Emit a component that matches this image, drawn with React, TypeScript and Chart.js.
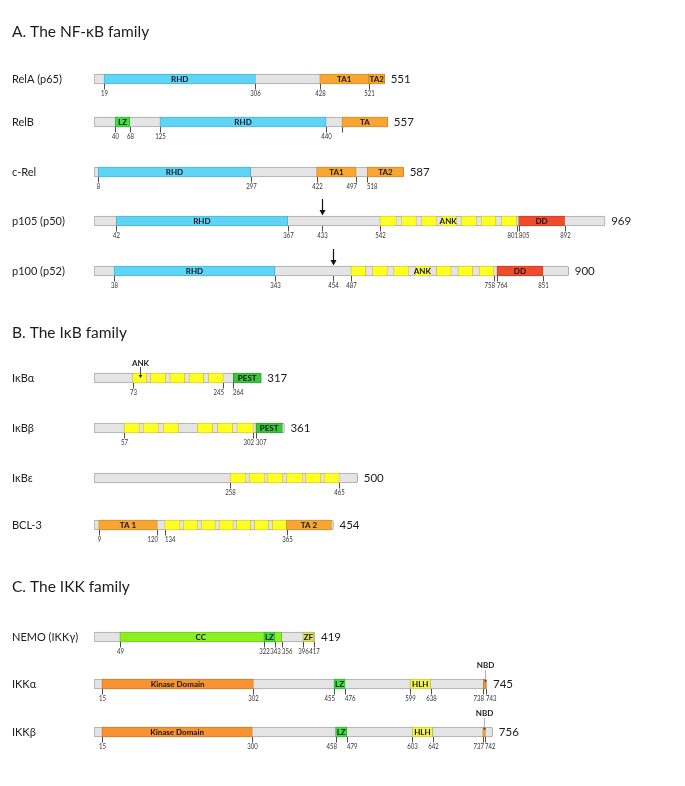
import React, { useEffect, useRef } from 'react';
import { Chart, registerables } from 'chart.js';

Chart.register(...registerables);

// ---------------- data ----------------
const SECTION_TITLES = ['A. The NF-κB family', 'B. The IκB family', 'C. The IKK family'];
const PROTEIN_NAMES = ['RelA (p65)', 'RelB', 'c-Rel', 'p105 (p50)', 'p100 (p52)', 'IκBα', 'IκBβ', 'IκBε', 'BCL-3', 'NEMO (IKKγ)', 'IKKα', 'IKKβ'];
const PROTEIN_LENGTHS = [551, 557, 587, 969, 900, 317, 361, 500, 454, 419, 745, 756];

type Dom = [number, number, string, string]; // start, end, label, kind
const RELA_DOMAINS: Dom[] = [[19, 306, 'RHD', 'RHD'], [428, 521, 'TA1', 'TA'], [521, 551, 'TA2', 'TA']];
const RELB_DOMAINS: Dom[] = [[40, 68, 'LZ', 'LZ'], [125, 440, 'RHD', 'RHD'], [470, 557, 'TA', 'TA']];
const CREL_DOMAINS: Dom[] = [[8, 297, 'RHD', 'RHD'], [422, 497, 'TA1', 'TA'], [518, 587, 'TA2', 'TA']];
const P105_DOMAINS: Dom[] = [[42, 367, 'RHD', 'RHD'], [805, 892, 'DD', 'DD']];
const P100_DOMAINS: Dom[] = [[38, 343, 'RHD', 'RHD'], [764, 851, 'DD', 'DD']];
const IKBA_DOMAINS: Dom[] = [[264, 317, 'PEST', 'PEST']];
const IKBB_DOMAINS: Dom[] = [[307, 357, 'PEST', 'PEST']];
const IKBE_DOMAINS: Dom[] = [];
const BCL3_DOMAINS: Dom[] = [[9, 120, 'TA 1', 'TA'], [365, 450, 'TA 2', 'TA']];
const NEMO_DOMAINS: Dom[] = [[49, 356, 'CC', 'CC'], [322, 343, 'LZ', 'LZ'], [396, 417, 'ZF', 'ZF']];
const IKKA_DOMAINS: Dom[] = [[15, 302, 'Kinase Domain', 'KIN'], [455, 476, 'LZ', 'LZ'], [599, 638, 'HLH', 'HLH'], [738, 743, '', 'NBD']];
const IKKB_DOMAINS: Dom[] = [[15, 300, 'Kinase Domain', 'KIN'], [458, 479, 'LZ', 'LZ'], [603, 642, 'HLH', 'HLH'], [737, 742, '', 'NBD']];

// ankyrin repeats [start, end]
const P105_ANK = [[542, 573], [583, 611], [621, 649], [658, 687], [696, 725], [734, 762], [772, 801]];
const P100_ANK = [[487, 515], [528, 556], [568, 596], [609, 637], [649, 677], [690, 718], [730, 758]];
const IKBA_ANK = [[73, 100], [107, 136], [144, 172], [180, 208], [217, 245]];
const IKBB_ANK = [[57, 86], [93, 122], [131, 160], [196, 225], [234, 263], [271, 302]];
const IKBE_ANK = [[258, 287], [294, 323], [328, 358], [365, 395], [401, 430], [436, 465]];
const BCL3_ANK = [[134, 163], [169, 196], [203, 230], [237, 264], [270, 297], [304, 331], [338, 365]];

// numbered residue ticks
const RELA_TICKS = [19, 306, 428, 521];
const RELB_TICKS = [40, 68, 125, 440];
const CREL_TICKS = [8, 297, 422, 497, 518];
const P105_TICKS = [42, 367, 433, 542, 801, 805, 892];
const P100_TICKS = [38, 343, 454, 487, 758, 764, 851];
const IKBA_TICKS = [73, 245, 264];
const IKBB_TICKS = [57, 302, 307];
const IKBE_TICKS = [258, 465];
const BCL3_TICKS = [9, 120, 134, 365];
const NEMO_TICKS = [49, 322, 343, 356, 396, 417];
const IKKA_TICKS = [15, 302, 455, 476, 599, 638, 738, 743];
const IKKB_TICKS = [15, 300, 458, 479, 603, 642, 737, 742];

const UNLABELED_MARKS: [number, number][] = [[1, 470]]; // [row, residue]
const CLEAVAGE_SITES: [number, number][] = [[3, 433], [4, 454]]; // processing sites (arrows)
const REPEAT_LABELS: [number, string][] = [[3, 'ANK'], [4, 'ANK']];
const CALLOUTS: [number, number, string, string][] = [[5, 87, 'ANK', 'arrow'], [10, 740.5, 'NBD', 'line'], [11, 739.5, 'NBD', 'line']];

const DOMAIN_LISTS = [RELA_DOMAINS, RELB_DOMAINS, CREL_DOMAINS, P105_DOMAINS, P100_DOMAINS, IKBA_DOMAINS, IKBB_DOMAINS, IKBE_DOMAINS, BCL3_DOMAINS, NEMO_DOMAINS, IKKA_DOMAINS, IKKB_DOMAINS];
const REPEAT_LISTS = [[], [], [], P105_ANK, P100_ANK, IKBA_ANK, IKBB_ANK, IKBE_ANK, BCL3_ANK, [], [], []];
const TICK_LISTS = [RELA_TICKS, RELB_TICKS, CREL_TICKS, P105_TICKS, P100_TICKS, IKBA_TICKS, IKBB_TICKS, IKBE_TICKS, BCL3_TICKS, NEMO_TICKS, IKKA_TICKS, IKKB_TICKS];

// ---------------- layout & style ----------------
const ROW_Y = [79, 122, 172, 221, 271, 378, 428, 478, 525, 637, 684, 732];
const TITLE_Y = [32, 333, 587];
const TICK_ALIGN: Record<string, 'left' | 'right'> = {
  '2:497': 'right', '2:518': 'left',
  '3:801': 'right', '3:805': 'left', '4:758': 'right', '4:764': 'left',
  '5:245': 'right', '5:264': 'left', '6:302': 'right', '6:307': 'left',
  '8:120': 'right', '8:134': 'left', '9:356': 'left',
  '10:455': 'right', '10:476': 'left', '10:738': 'right', '10:743': 'left',
  '11:458': 'right', '11:479': 'left', '11:737': 'right', '11:742': 'left',
};
const FONT = 'Lato, "Noto Sans", "DejaVu Sans", sans-serif';
const TICK_SQUEEZE = 0.84;
const KIND_COLORS: Record<string, [string, string]> = {
  RHD: ['#5fd4f4', '#45a9c8'],
  TA: ['#f8a531', '#c98420'],
  LZ: ['#3fe03f', '#2aa82a'],
  DD: ['#f04b2b', '#b83a20'],
  PEST: ['#3cc63c', '#2a922a'],
  CC: ['#8af020', '#66b818'],
  ZF: ['#e0e254', '#a8a838'],
  KIN: ['#f79331', '#c47020'],
  HLH: ['#f2f254', '#b8b63a'],
  NBD: ['#f0a040', '#b87828'],
};
const ANK_FILL = '#ffff22';
const ANK_BORDER = '#cbbd3c';
const BAR_T = 10;

const annotate = {
  id: 'annotate',
  afterDatasetsDraw(chart: any) {
    const ctx: CanvasRenderingContext2D = chart.ctx;
    const xs = chart.scales.x;
    const ys = chart.scales.y;
    const X = (v: number) => xs.getPixelForValue(v);
    const Y = (v: number) => ys.getPixelForValue(v);
    ctx.save();
    ctx.textBaseline = 'middle';
    ctx.fillStyle = '#1f1b1c';
    ctx.textAlign = 'left';
    ctx.font = `15.5px ${FONT}`;
    SECTION_TITLES.forEach((t, k) => ctx.fillText(t, 12, Y(TITLE_Y[k])));

    PROTEIN_NAMES.forEach((name, i) => {
      const y = Y(ROW_Y[i]);
      ctx.fillStyle = '#1f1b1c';
      ctx.textAlign = 'left';
      ctx.font = `11px ${FONT}`;
      ctx.fillText(name, 12, y);
      ctx.font = `11.5px ${FONT}`;
      ctx.fillText(String(PROTEIN_LENGTHS[i]), X(PROTEIN_LENGTHS[i]) + 6, y);

      // domain labels
      ctx.font = `bold 8px ${FONT}`;
      ctx.textAlign = 'center';
      ctx.fillStyle = '#15151f';
      DOMAIN_LISTS[i].forEach(([s, e, label]) => {
        if (label) ctx.fillText(label, (X(s) + X(e)) / 2, y + 0.5);
      });

      // ticks
      const drawTick = (pos: number) => {
        const x = Math.round(X(pos)) + 0.5;
        ctx.strokeStyle = '#3a3a3a';
        ctx.lineWidth = 0.9;
        ctx.beginPath();
        ctx.moveTo(x, y + BAR_T / 2);
        ctx.lineTo(x, y + BAR_T / 2 + 5.5);
        ctx.stroke();
        return x;
      };
      ctx.font = `7.2px ${FONT}`;
      ctx.fillStyle = '#333';
      TICK_LISTS[i].forEach((pos) => {
        const x = drawTick(pos);
        const al = TICK_ALIGN[`${i}:${pos}`];
        let ax = x;
        if (al === 'right') { ctx.textAlign = 'right'; ax = x + 0.5; }
        else if (al === 'left') { ctx.textAlign = 'left'; ax = x - 0.5; }
        else { ctx.textAlign = 'center'; }
        ctx.save();
        ctx.translate(ax, y + 14.5);
        ctx.scale(TICK_SQUEEZE, 1);
        ctx.fillText(String(pos), 0, 0);
        ctx.restore();
      });
    });

    UNLABELED_MARKS.forEach(([row, pos]) => {
      const y = Y(ROW_Y[row]);
      const x = Math.round(X(pos)) + 0.5;
      ctx.strokeStyle = '#3a3a3a';
      ctx.lineWidth = 0.9;
      ctx.beginPath();
      ctx.moveTo(x, y + BAR_T / 2);
      ctx.lineTo(x, y + BAR_T / 2 + 5.5);
      ctx.stroke();
    });

    // repeat region labels
    ctx.font = `bold 8px ${FONT}`;
    ctx.textAlign = 'center';
    ctx.fillStyle = '#15151f';
    REPEAT_LABELS.forEach(([row, label]) => {
      const reps = REPEAT_LISTS[row] as number[][];
      const s = reps[0][0];
      const e = reps[reps.length - 1][1];
      ctx.fillText(label, (X(s) + X(e)) / 2, Y(ROW_Y[row]) + 0.5);
    });

    // cleavage arrows
    CLEAVAGE_SITES.forEach(([row, pos]) => {
      const y = Y(ROW_Y[row]);
      const x = Math.round(X(pos)) + 0.5;
      ctx.strokeStyle = '#111';
      ctx.fillStyle = '#111';
      ctx.lineWidth = 1.2;
      ctx.beginPath();
      ctx.moveTo(x, y - 22);
      ctx.lineTo(x, y - 10);
      ctx.stroke();
      ctx.beginPath();
      ctx.moveTo(x - 3, y - 11);
      ctx.lineTo(x + 3, y - 11);
      ctx.lineTo(x, y - 5.5);
      ctx.closePath();
      ctx.fill();
    });

    // callouts
    CALLOUTS.forEach(([row, pos, label, kind]) => {
      const y = Y(ROW_Y[row]);
      const x = Math.round(X(pos)) + 0.5;
      ctx.font = `bold 8px ${FONT}`;
      ctx.textAlign = 'center';
      ctx.fillStyle = '#1c1c1c';
      if (kind === 'arrow') {
        ctx.fillText(label, x, y - 15);
        ctx.strokeStyle = '#222';
        ctx.lineWidth = 0.8;
        ctx.beginPath();
        ctx.moveTo(x, y - 11);
        ctx.lineTo(x, y - 2);
        ctx.stroke();
        ctx.fillStyle = '#222';
        ctx.beginPath();
        ctx.moveTo(x - 1.8, y - 3);
        ctx.lineTo(x + 1.8, y - 3);
        ctx.lineTo(x, y);
        ctx.closePath();
        ctx.fill();
      } else {
        ctx.fillText(label, x, y - 18.5);
        ctx.strokeStyle = '#a0a0a0';
        ctx.lineWidth = 0.8;
        ctx.beginPath();
        ctx.moveTo(x, y - 14);
        ctx.lineTo(x, y - 3);
        ctx.stroke();
        ctx.fillStyle = '#333';
        ctx.fillRect(x - 0.8, y - 4, 1.6, 1.6);
      }
    });
    ctx.restore();
  },
};

export default function App() {
  const ref = useRef<HTMLCanvasElement>(null);
  useEffect(() => {
    const canvas = ref.current;
    if (!canvas) return;
    const backbone = PROTEIN_LENGTHS.map((len, i) => ({ x: [0, len], y: ROW_Y[i] }));
    const domData: any[] = [];
    const domFill: string[] = [];
    const domBorder: string[] = [];
    DOMAIN_LISTS.forEach((list, i) => {
      list.forEach(([s, e, , kind]) => {
        domData.push({ x: [s, e], y: ROW_Y[i] });
        domFill.push(KIND_COLORS[kind][0]);
        domBorder.push(KIND_COLORS[kind][1]);
      });
    });
    const repData: any[] = [];
    REPEAT_LISTS.forEach((list, i) => {
      (list as number[][]).forEach(([s, e]) => repData.push({ x: [s, e], y: ROW_Y[i] }));
    });
    const common = { barThickness: BAR_T, grouped: false, borderSkipped: false as const };
    const chart = new Chart(canvas, {
      type: 'bar',
      data: {
        datasets: [
          // Chart.js paints the first dataset last (on top)
          { ...common, data: domData as any, backgroundColor: domFill, borderColor: domBorder, borderWidth: 0.8 },
          { ...common, data: repData as any, backgroundColor: ANK_FILL, borderColor: ANK_BORDER, borderWidth: 0.8 },
          { ...common, data: backbone as any, backgroundColor: '#e4e4e4', borderColor: '#a8a8a8', borderWidth: 1, borderRadius: 2 },
        ],
      },
      options: {
        indexAxis: 'y',
        responsive: false,
        animation: false,
        events: [],
        layout: { padding: { left: 94, right: 63.5, top: 0, bottom: 0 } },
        plugins: { legend: { display: false }, tooltip: { enabled: false } },
        scales: {
          x: { type: 'linear', min: 0, max: 1000, display: false, offset: false },
          y: { type: 'linear', min: 0, max: 786, reverse: true, display: false, offset: false },
        },
      },
      plugins: [annotate],
    });
    return () => chart.destroy();
  }, []);
  return (
    <div style={{ position: 'fixed', left: 0, top: 0, width: 685, height: 786, background: '#fff' }}>
      <canvas ref={ref} width={685} height={786} style={{ display: 'block', width: 685, height: 786 }} />
    </div>
  );
}
